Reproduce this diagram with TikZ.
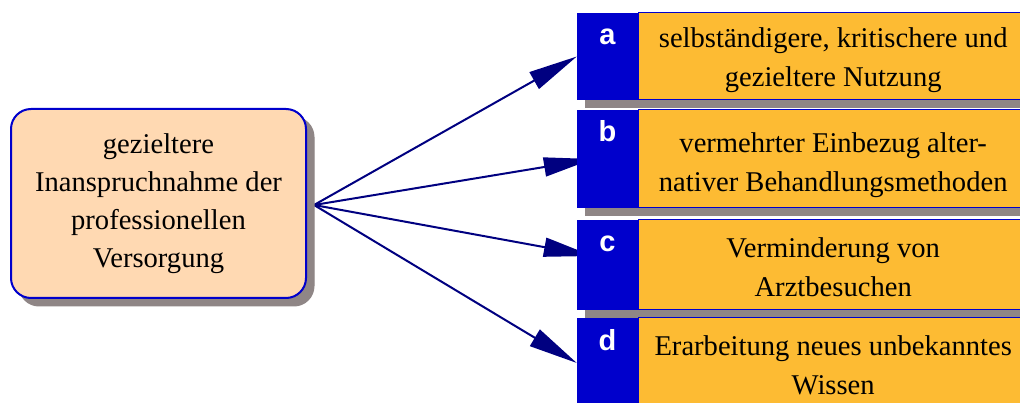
\documentclass[tikz,border=0pt]{standalone}
\usepackage{fontspec}
\setmainfont{Liberation Serif}
\newfontfamily\lettersans{Liberation Sans}
\usetikzlibrary{arrows.meta}
\usetikzlibrary{positioning}
\usetikzlibrary{shadows}
\usetikzlibrary{backgrounds}
\definecolor{peach}{RGB}{255,217,178}
\definecolor{boxorange}{RGB}{253,187,51}
\definecolor{boxblue}{RGB}{0,0,204}
\definecolor{pfeilnavy}{RGB}{0,0,128}
\definecolor{shadowgray}{RGB}{143,134,134}
\tikzset{schatten/.style = {drop shadow = {shadow xshift = 8pt, shadow yshift = -8pt,
                                            fill = shadowgray, draw = shadowgray,
                                            line width = 1pt, opacity = 1}}}
\tikzset{quellbox/.style = {draw = boxblue, line width = 2pt, fill = peach, rounded corners = 20pt,
                            minimum width = 295pt, minimum height = 189pt, inner sep = 0,
                            align = center, font = \fontsize{28.6}{38}\selectfont, schatten}}
\tikzset{itembox/.style 2 args = {draw = boxblue, line width = 1pt, fill = boxorange,
                                  minimum width = 389pt, inner sep = 0, align = center,
                                  text height = #1, text depth = #2,
                                  font = \fontsize{28.6}{39}\selectfont, schatten}}
\tikzset{letterbox/.style 2 args = {fill = boxblue, text = white, minimum width = 61pt, inner sep = 0,
                                    text height = #1, text depth = #2,
                                    font = \lettersans\bfseries\fontsize{29}{29}\selectfont, schatten}}
\tikzset{pfeil/.style = {draw = pfeilnavy, line width = 2pt, -{Triangle[length = 49pt, width = 19pt]}}}

\begin{document}
\begin{tikzpicture}[x = 1pt, y = -1pt]
      \useasboundingbox (0, 0) rectangle (1020, 403);
      \node [quellbox] (quelle) at (158.5, 203.5) {gezieltere\\Inanspruchnahme der\\professionellen\\Versorgung};
      \coordinate (fan) at (314, 205);
      \node [letterbox = {32pt}{55pt}] (lbla) at (607.5, 56.5) {a};
      \node [itembox = {74pt}{13pt}, right = 0pt of lbla] (itema) {selbständigere, kritischere und\\gezieltere Nutzung};
      \node [letterbox = {32pt}{66pt}] (lblb) at (607.5, 159) {b};
      \node [itembox = {82pt}{16pt}, right = 0pt of lblb] (itemb) {vermehrter Einbezug alter-\\nativer Behandlungsmethoden};
      \node [letterbox = {32pt}{58pt}] (lblc) at (607.5, 265) {c};
      \node [itembox = {77pt}{13pt}, right = 0pt of lblc] (itemc) {Verminderung von\\Arztbesuchen};
      \node [letterbox = {32pt}{58pt}] (lbld) at (607.5, 363) {d};
      \node [itembox = {76pt}{14pt}, right = 0pt of lbld] (itemd) {Erarbeitung neues unbekanntes\\Wissen};
      \begin{pgfonlayer}{background}
        \draw [pfeil] (fan) -- (lbla.west);
        \draw [pfeil] (fan) -- ([xshift = 16pt]lblb.west);
        \draw [pfeil] (fan) -- ([xshift = 16pt, yshift = 9pt]lblc.west);
        \draw [pfeil] (fan) -- (lbld.west);
      \end{pgfonlayer}
    \end{tikzpicture}
\end{document}
